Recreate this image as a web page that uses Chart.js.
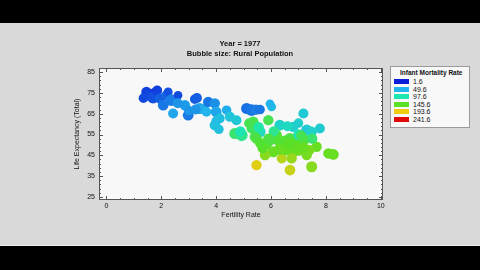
<!DOCTYPE html>
<html lang="en">
<head>
    <meta charset="UTF-8">
    <title>Year = 1977</title>
    <script src="https://cdn.jsdelivr.net/npm/chart.js"></script>
    <style>
        * {
            margin: 0;
            padding: 0;
            box-sizing: border-box;
        }

        body {
            width: 480px;
            height: 270px;
            background: #000;
            overflow: hidden;
            font-family: "Liberation Sans", Arial, sans-serif;
        }

        .panel {
            position: absolute;
            top: 23px;
            left: 0;
            width: 480px;
            height: 223px;
            background: #d9d9d9;
            border-bottom: 1px solid #ececec;
        }

        .chart-box {
            position: absolute;
            top: 0;
            left: 0;
            width: 480px;
            height: 223px;
        }

        .legend {
            position: absolute;
            left: 390px;
            top: 43px;
            width: 80px;
            height: 62px;
            background: #f8f8f8;
            border: 1px solid #9a9a9a;
            color: #111;
            font-size: 6.5px;
        }

        .legend-title {
            font-weight: bold;
            padding: 2px 0 0 9px;
            height: 11px;
            white-space: nowrap;
        }

        .legend-row {
            display: flex;
            align-items: center;
            height: 7.5px;
            padding-left: 3px;
            font-size: 7px;
        }

        .legend-row span.swatch {
            width: 15px;
            height: 5px;
            margin-right: 4px;
        }
    </style>
</head>
<body>
    <div class="panel">
        <div class="chart-box">
            <canvas id="bubbleChart"></canvas>
        </div>
        <div class="legend" id="legend">
            <div class="legend-title">Infant Mortality Rate</div>
        </div>
    </div>

    <script>
        // 1977 country data: fertility rate, life expectancy, infant mortality, rural population (millions)
        const fertility = [
            1.46, 1.58, 1.76, 1.35, 1.70, 1.85, 1.95, 2.19, 2.25, 2.07,
            2.37, 2.61, 2.43, 2.86, 2.98, 3.22, 3.30, 3.40, 3.55, 3.25,
            3.71, 3.65, 3.95, 4.00, 4.13, 3.95, 4.00, 4.38, 4.50, 4.74,
            4.68, 4.93, 4.88, 5.11, 5.29, 5.45, 5.60, 6.02, 5.96, 5.35,
            5.90, 5.60, 5.29, 5.41, 6.32, 6.81, 7.30, 7.78, 7.48, 7.18,
            6.60, 7.00, 6.20, 6.69, 5.47, 5.84, 6.45, 7.05, 7.66, 6.08,
            6.81, 7.30, 8.09, 8.27, 5.78, 6.39, 5.47, 6.69, 7.48, 6.00,
            6.90, 7.20, 6.55, 7.00, 5.70, 6.30, 7.50, 5.20, 6.10, 6.75,
            7.40, 5.55, 4.10, 2.60, 3.00, 7.00, 6.50, 6.90, 7.20, 6.30,
            5.90, 7.10, 6.65, 5.60
        ];
        const lifeExpectancy = [
            75.5, 73.9, 74.8, 72.5, 72.8, 76.2, 72.4, 73.9, 75.5, 69.1,
            71.5, 73.9, 65.1, 69.1, 64.3, 72.0, 72.6, 67.5, 67.2, 67.0,
            70.7, 65.9, 70.0, 65.9, 62.7, 59.5, 61.5, 66.7, 63.5, 61.9,
            55.5, 54.7, 56.5, 67.5, 66.7, 67.0, 67.0, 68.3, 69.8, 61.1,
            61.9, 56.3, 57.9, 53.9, 59.5, 58.7, 57.1, 57.9, 56.3, 65.1,
            59.0, 60.5, 54.7, 53.1, 53.1, 50.7, 49.9, 49.9, 49.1, 46.7,
            46.7, 45.1, 45.9, 45.4, 45.1, 43.5, 40.3, 37.9, 39.5, 52.5,
            51.5, 52.5, 47.8, 47.5, 48.5, 51.5, 53.0, 60.4, 56.5, 43.5,
            47.5, 58.5, 57.5, 70.0, 66.5, 55.0, 52.0, 49.0, 48.5, 47.8,
            53.0, 54.5, 50.5, 51.0
        ];
        const infantMortality = [
            12, 14, 10, 15, 18, 12, 22, 24, 18, 30,
            32, 16, 45, 42, 30, 20, 22, 45, 48, 40,
            30, 50, 38, 45, 60, 62, 58, 48, 65, 68,
            120, 110, 95, 28, 30, 32, 30, 55, 50, 130,
            130, 85, 125, 130, 80, 75, 70, 72, 78, 70,
            85, 75, 140, 135, 135, 140, 145, 145, 150, 150,
            150, 155, 150, 150, 160, 175, 188, 180, 160, 135,
            140, 138, 150, 152, 145, 140, 120, 130, 110, 165,
            155, 100, 62, 40, 40, 95, 140, 148, 150, 150,
            135, 130, 145, 140
        ];
        const ruralPopulation = [
            10, 12, 14, 6, 20, 8, 10, 8, 4, 12,
            18, 3, 8, 10, 12, 6, 8, 14, 10, 8,
            10, 6, 10, 12, 8, 10, 6, 6, 8, 8,
            14, 20, 10, 14, 18, 10, 6, 4, 3, 12,
            10, 14, 8, 10, 12, 10, 14, 8, 10, 8,
            8, 6, 12, 14, 10, 16, 20, 14, 10, 14,
            16, 10, 10, 12, 10, 8, 10, 12, 14, 12,
            18, 14, 20, 16, 12, 10, 10, 8, 10, 10,
            8, 10, 6, 8, 6, 10, 12, 14, 10, 12,
            10, 8, 12, 10
        ];

        const xTicks = [0, 2, 4, 6, 8, 10];
        const yTicks = [25, 35, 45, 55, 65, 75, 85];

        const legendValues = [1.6, 49.6, 97.6, 145.6, 193.6, 241.6];
        const legendColors = ['#0a1ed8', '#22b4ec', '#1ee6b0', '#5ae024', '#f0cc10', '#e00a0a'];

        function hexToRgb(hex) {
            const n = parseInt(hex.slice(1), 16);
            return [(n >> 16) & 255, (n >> 8) & 255, n & 255];
        }

        function colorFor(v) {
            if (v <= legendValues[0]) return legendColors[0];
            for (let i = 1; i < legendValues.length; i++) {
                if (v <= legendValues[i]) {
                    const t = (v - legendValues[i - 1]) / (legendValues[i] - legendValues[i - 1]);
                    const a = hexToRgb(legendColors[i - 1]);
                    const b = hexToRgb(legendColors[i]);
                    const c = a.map((x, k) => Math.round(x + (b[k] - x) * t));
                    return `rgb(${c[0]}, ${c[1]}, ${c[2]})`;
                }
            }
            return legendColors[legendColors.length - 1];
        }

        // legend rows
        const legendEl = document.getElementById('legend');
        legendValues.forEach((v, i) => {
            const row = document.createElement('div');
            row.className = 'legend-row';
            row.innerHTML = `<span class="swatch" style="background:${legendColors[i]}"></span><span>${v}</span>`;
            legendEl.appendChild(row);
        });

        const points = fertility.map((x, i) => ({
            x: x,
            y: lifeExpectancy[i],
            r: 3.3 + Math.sqrt(ruralPopulation[i]) * 0.6
        }));
        const colors = infantMortality.map(colorFor);

        // plot background, border and tick marks on all four sides
        const framePlugin = {
            id: 'frame',
            beforeDatasetsDraw(chart) {
                const { ctx, chartArea: a } = chart;
                ctx.save();
                ctx.fillStyle = '#f8f8f8';
                ctx.fillRect(a.left, a.top, a.right - a.left, a.bottom - a.top);
                ctx.restore();
            },
            afterDatasetsDraw(chart) {
                const { ctx, chartArea: a, scales } = chart;
                ctx.save();
                ctx.strokeStyle = '#555';
                ctx.lineWidth = 1;
                ctx.strokeRect(a.left + 0.5, a.top + 0.5, a.right - a.left - 1, a.bottom - a.top - 1);
                ctx.beginPath();
                for (let v = 0; v <= 10.001; v += 0.5) {
                    const px = Math.round(scales.x.getPixelForValue(v)) + 0.5;
                    const len = xTicks.includes(Math.round(v * 10) / 10) ? 4 : 2;
                    ctx.moveTo(px, a.bottom); ctx.lineTo(px, a.bottom - len);
                    ctx.moveTo(px, a.top); ctx.lineTo(px, a.top + len);
                }
                for (let v = 25; v <= 85; v += 2) {
                    const py = Math.round(scales.y.getPixelForValue(v)) + 0.5;
                    const len = yTicks.includes(v) ? 4 : 2;
                    ctx.moveTo(a.left, py); ctx.lineTo(a.left + len, py);
                    ctx.moveTo(a.right, py); ctx.lineTo(a.right - len, py);
                }
                ctx.stroke();
                ctx.restore();
            }
        };

        const tickFont = { family: '"Liberation Sans", Arial, sans-serif', size: 7 };

        new Chart(document.getElementById('bubbleChart'), {
            type: 'bubble',
            data: {
                datasets: [{
                    data: points,
                    backgroundColor: colors,
                    borderWidth: 0
                }]
            },
            options: {
                responsive: true,
                maintainAspectRatio: false,
                animation: false,
                events: [],
                layout: { padding: 0 },
                plugins: {
                    legend: { display: false },
                    tooltip: { enabled: false },
                    title: {
                        display: true,
                        text: ['Year = 1977', 'Bubble size: Rural Population'],
                        color: '#111',
                        font: { family: '"Liberation Sans", Arial, sans-serif', size: 7.5, weight: 'bold', lineHeight: 10 / 7.5 },
                        padding: { top: 15.5, bottom: 9.5 }
                    }
                },
                scales: {
                    x: {
                        type: 'linear',
                        min: -0.27,
                        max: 10.08,
                        afterBuildTicks: s => { s.ticks = xTicks.map(v => ({ value: v })); },
                        afterFit: s => { s.height = 46; },
                        grid: { display: false, drawTicks: false },
                        border: { display: false },
                        ticks: { color: '#111', font: tickFont, padding: 2, maxRotation: 0 },
                        title: {
                            display: true,
                            text: 'Fertility Rate',
                            color: '#111',
                            font: tickFont,
                            padding: { top: 0, bottom: 27 }
                        }
                    },
                    y: {
                        type: 'linear',
                        min: 23.5,
                        max: 87,
                        afterBuildTicks: s => { s.ticks = yTicks.map(v => ({ value: v })); },
                        afterFit: s => { s.width = 99; },
                        grid: { display: false, drawTicks: false },
                        border: { display: false },
                        ticks: { color: '#111', font: tickFont, padding: 4 },
                        title: {
                            display: true,
                            text: 'Life Expectancy (Total)',
                            color: '#111',
                            font: tickFont,
                            padding: { top: 72.8, bottom: 0 }
                        }
                    },
                    // empty right-hand strip that leaves room for the legend box
                    legendSpace: {
                        type: 'linear',
                        position: 'right',
                        afterFit: s => { s.width = 97; },
                        grid: { display: false, drawTicks: false },
                        border: { display: false },
                        ticks: { display: false }
                    }
                }
            },
            plugins: [framePlugin]
        });
    </script>
</body>
</html>
